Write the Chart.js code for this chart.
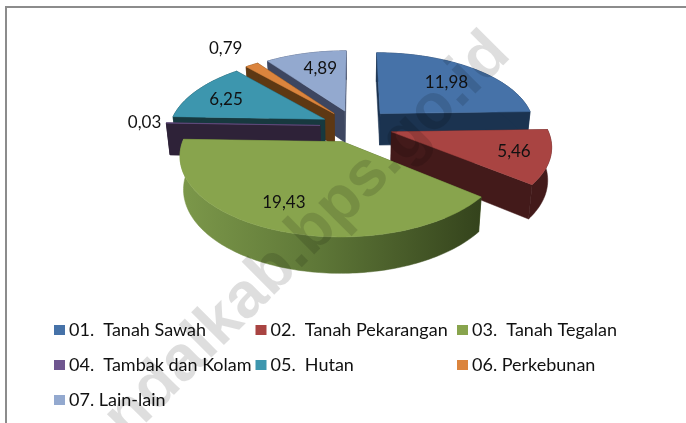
<!DOCTYPE html>
<html>
<head>
<meta charset="utf-8">
<script src="https://cdn.jsdelivr.net/npm/chart.js@4"></script>
<style>
  html, body { margin: 0; padding: 0; background: #fff; }
  #wrap { width: 686px; height: 423px; position: relative; }
</style>
</head>
<body>
<div id="wrap"><canvas id="pie"></canvas></div>
<script>
const categories = ['01.  Tanah Sawah', '02.  Tanah Pekarangan', '03.  Tanah Tegalan',
  '04.  Tambak dan Kolam', '05.  Hutan', '06. Perkebunan', '07. Lain-lain'];
const values = [11.98, 5.46, 19.43, 0.03, 6.25, 0.79, 4.89];
const topColors = ['#4672A8', '#A94442', '#88A44D', '#6F5690', '#3D96AE', '#DB843D', '#93A9CF'];
const sideColors = ['#1B3350', '#431A1A', '#4D6329', '#2E2238', '#17393F', '#5E3813', '#3D4660'];
const explode = [37, 38, 34, 35, 34, 34, 34];

// the slices are painted from the back to the front
const paintOrder = [6, 5, 4, 3, 0, 1, 2];
// where each value sits on its slice: part of the radius, then a small nudge
const labelRadius = [0.7, 0.78, 0.7, 1.136, 0.76, 1.4, 0.7];
const labelNudge = [[0, 2], [0, 0], [-14, 2], [-1, 0], [0, 2], [2, 0], [4, -1]];

const TILT = 0.479;      // height of the ellipse against its width
const PERSPECTIVE = 0.16; // front looks bigger than back
const DEPTH = 32;
const FONT = 'Lato, "Open Sans", sans-serif';

function project(arc, X, Y) {
  const s = 1 / (1 - PERSPECTIVE * Y);
  return {
    x: arc.x + X * arc.outerRadius * s,
    y: arc.y + Y * arc.outerRadius * TILT * s,
    s: s
  };
}

function lower(arc, p) {
  return { x: arc.x + (p.x - arc.x) * 0.98, y: p.y + DEPTH * Math.pow(p.s, 0.6) };
}

function polygon(ctx, pts, fill) {
  ctx.beginPath();
  pts.forEach((p, i) => i ? ctx.lineTo(p.x, p.y) : ctx.moveTo(p.x, p.y));
  ctx.closePath();
  ctx.fillStyle = fill;
  ctx.strokeStyle = fill;
  ctx.lineWidth = 0.5;
  ctx.fill();
  ctx.stroke();
}

function slicePoints(arc) {
  const r = arc.outerRadius;
  const mid = (arc.startAngle + arc.endAngle) / 2;
  const ox = Math.cos(mid) * arc.options.offset / r;
  const oy = Math.sin(mid) * arc.options.offset / r;
  const apex = project(arc, ox, oy);
  const rim = [];
  const steps = Math.max(2, Math.ceil((arc.endAngle - arc.startAngle) / 0.02));
  for (let i = 0; i <= steps; i++) {
    const a = arc.startAngle + (arc.endAngle - arc.startAngle) * i / steps;
    rim.push(project(arc, ox + Math.cos(a), oy + Math.sin(a)));
  }
  return { apex, rim, ox, oy, mid };
}

function wallFill(ctx, i, rim) {
  if (i !== 2) return sideColors[i];
  // the big slice has a shaded rim
  const xs = rim.map(p => p.x);
  const g = ctx.createLinearGradient(Math.min(...xs), 0, Math.max(...xs), 0);
  g.addColorStop(0, '#7C984A');
  g.addColorStop(0.45, '#5F7838');
  g.addColorStop(1, '#34431C');
  return g;
}

const pie3d = {
  id: 'pie3d',
  beforeDraw(chart) {
    const ctx = chart.ctx;
    ctx.save();
    ctx.fillStyle = '#fff';
    ctx.fillRect(0, 0, chart.width, chart.height);
    ctx.fillStyle = '#8C8C8C';
    ctx.fillRect(5, 6, chart.width - 5, 2);
    ctx.fillRect(5, 6, 2, chart.height - 6);
    ctx.restore();
  },
  beforeDatasetDraw(chart) {
    const ctx = chart.ctx;
    const arcs = chart.getDatasetMeta(0).data;
    ctx.save();
    paintOrder.forEach(i => {
      const arc = arcs[i];
      const { apex, rim } = slicePoints(arc);
      const apexLow = lower(arc, apex);
      const first = rim[0], last = rim[rim.length - 1];
      // cut faces
      polygon(ctx, [apex, first, lower(arc, first), apexLow], sideColors[i]);
      polygon(ctx, [apex, last, lower(arc, last), apexLow], sideColors[i]);
      // outer wall
      polygon(ctx, rim.concat(rim.map(p => lower(arc, p)).reverse()), wallFill(ctx, i, rim));
      // top
      polygon(ctx, [apex].concat(rim), topColors[i]);
    });
    ctx.restore();
    return false;
  },
  afterDraw(chart) {
    const ctx = chart.ctx;
    const arcs = chart.getDatasetMeta(0).data;
    ctx.save();
    // value labels
    ctx.font = '17px ' + FONT;
    ctx.fillStyle = '#111';
    ctx.textAlign = 'center';
    ctx.textBaseline = 'middle';
    arcs.forEach((arc, i) => {
      const { ox, oy, mid } = slicePoints(arc);
      const f = labelRadius[i];
      const p = project(arc, ox + Math.cos(mid) * f, oy + Math.sin(mid) * f);
      ctx.fillText(values[i].toFixed(2).replace('.', ','), p.x + labelNudge[i][0], p.y + labelNudge[i][1]);
    });
    // legend, three columns
    ctx.textAlign = 'left';
    ctx.font = '18px ' + FONT;
    categories.forEach((name, i) => {
      const col = i % 3, row = Math.floor(i / 3);
      const x = 54 + col * 201.5;
      const y = 330 + row * 35;
      ctx.fillStyle = topColors[i];
      ctx.fillRect(x, y - 5, 11, 10);
      ctx.fillStyle = '#111';
      ctx.fillText(name, x + 15, y);
    });
    // site watermark
    ctx.translate(500, 44);
    ctx.rotate(-Math.PI / 4);
    ctx.font = 'bold 64px "Liberation Sans", Arial, sans-serif';
    ctx.textAlign = 'right';
    ctx.fillStyle = 'rgba(0,0,0,0.13)';
    ctx.fillText('kendalkab.bps.go.id', 0, 0);
    ctx.restore();
  }
};

new Chart(document.getElementById('pie'), {
  type: 'pie',
  plugins: [pie3d],
  data: {
    labels: categories,
    datasets: [{
      data: values,
      backgroundColor: topColors,
      offset: explode,
      borderWidth: 0
    }]
  },
  options: {
    responsive: true,
    maintainAspectRatio: false,
    animation: false,
    radius: 155,
    layout: { padding: { left: 24, bottom: 171 } },
    plugins: {
      legend: { display: false },
      tooltip: { enabled: false }
    }
  }
});
</script>
</body>
</html>
